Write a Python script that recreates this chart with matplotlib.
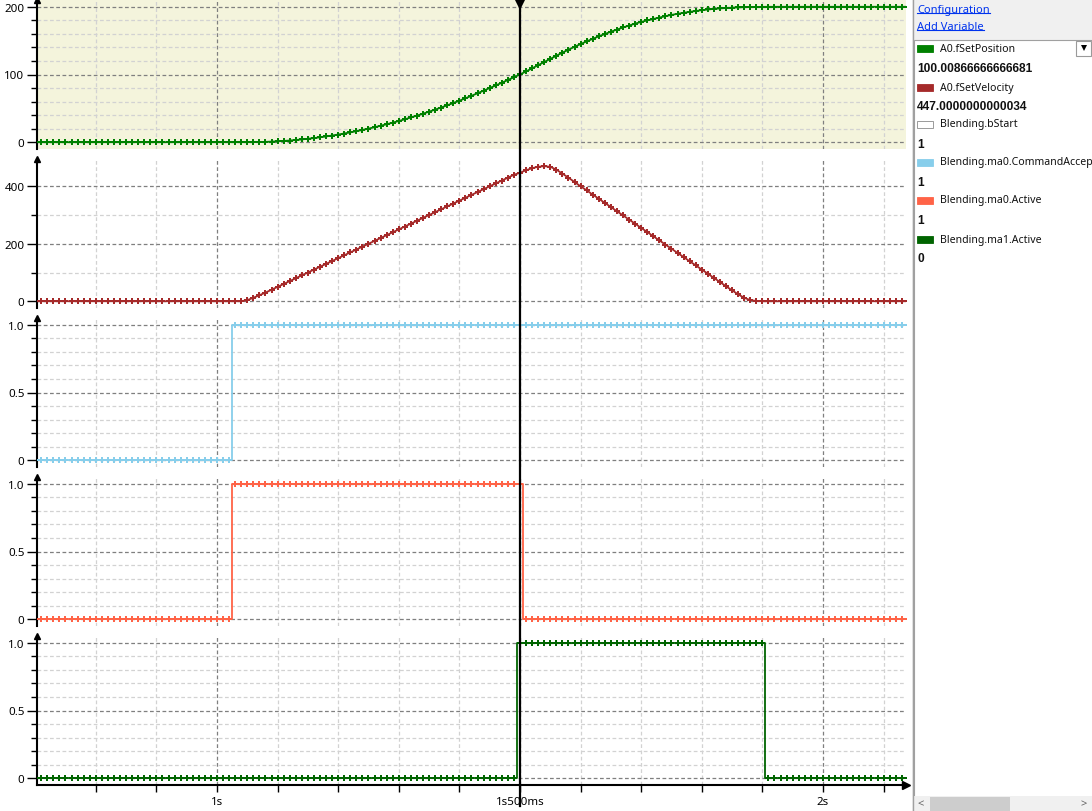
import numpy as np
import matplotlib
matplotlib.use("Agg")
import matplotlib.pyplot as plt
from matplotlib.lines import Line2D
from matplotlib.patches import Rectangle
import matplotlib.transforms as mtrans
from matplotlib.ticker import MultipleLocator, FuncFormatter

plt.rcParams['font.family'] = ['Noto Sans', 'DejaVu Sans']

# ---------------- data ----------------
# recording: 10 ms cycle from 0.70 s to 2.14 s
t_start = 0.70
t_step = 0.01
n_samples = 145
time_s = np.round(t_start + t_step * np.arange(n_samples), 3)

# A0.fSetPosition
position = [
    0, 0, 0, 0, 0, 0, 0, 0, 0, 0,                                              # 0.70
    0, 0, 0, 0, 0, 0, 0, 0, 0, 0,                                              # 0.80
    0, 0, 0, 0, 0, 0, 0, 0, 0, 0,                                              # 0.90
    0, 0, 0, 0, 0, 0.02, 0.10, 0.27, 0.52, 0.87,                               # 1.00
    1.32, 1.87, 2.52, 3.27, 4.12, 5.07, 6.12, 7.27, 8.52, 9.87,                # 1.10
    11.32, 12.87, 14.52, 16.27, 18.12, 20.07, 22.12, 24.27, 26.52, 28.87,      # 1.20
    31.32, 33.87, 36.52, 39.27, 42.12, 45.07, 48.12, 51.27, 54.52, 57.87,      # 1.30
    61.32, 64.87, 68.52, 72.27, 76.12, 80.07, 83.8, 87.8, 91.9, 95.9,          # 1.40
    100.01, 104.52, 109.11, 113.77, 118.46, 123.15, 127.78, 132.29, 136.66, 140.88,  # 1.50
    144.96, 148.89, 152.67, 156.31, 159.81, 163.16, 166.36, 169.42, 172.34, 175.11,  # 1.60
    177.6, 179.9, 182.0, 184.1, 186.1, 188.0, 189.6, 191.1, 192.5, 193.8,      # 1.70
    195.0, 196.0, 196.9, 197.6, 198.2, 198.7, 199.1, 199.4, 199.65, 199.8,     # 1.80
    199.9, 199.96, 200, 200, 200, 200, 200, 200, 200, 200,                     # 1.90
    200, 200, 200, 200, 200, 200, 200, 200, 200, 200,                          # 2.00
    200, 200, 200, 200, 200,                                                   # 2.10
]

# A0.fSetVelocity
velocity = [
    0, 0, 0, 0, 0, 0, 0, 0, 0, 0,                      # 0.70
    0, 0, 0, 0, 0, 0, 0, 0, 0, 0,                      # 0.80
    0, 0, 0, 0, 0, 0, 0, 0, 0, 0,                      # 0.90
    0, 0, 0, 0, 0, 4, 12, 21, 30, 40,                  # 1.00
    50, 60, 70, 80, 90, 100, 110, 120, 130, 140,       # 1.10
    150, 160, 170, 180, 190, 200, 210, 220, 230, 240,  # 1.20
    250, 260, 270, 280, 290, 300, 310, 320, 330, 340,  # 1.30
    350, 360, 370, 380, 390, 400, 410, 420, 430, 440,  # 1.40
    447, 456, 463, 468, 470, 468, 458, 444, 430, 415,  # 1.50
    400, 386, 371, 357, 342, 328, 313, 299, 284, 270,  # 1.60
    255, 241, 226, 212, 197, 183, 168, 154, 139, 125,  # 1.70
    110, 96, 81, 67, 52, 38, 24, 12, 4, 1,             # 1.80
    0, 0, 0, 0, 0, 0, 0, 0, 0, 0,                      # 1.90
    0, 0, 0, 0, 0, 0, 0, 0, 0, 0,                      # 2.00
    0, 0, 0, 0, 0,                                     # 2.10
]

# Blending.ma0.CommandAccepted
cmd_accepted = [
    0, 0, 0, 0, 0, 0, 0, 0, 0, 0,   # 0.70
    0, 0, 0, 0, 0, 0, 0, 0, 0, 0,   # 0.80
    0, 0, 0, 0, 0, 0, 0, 0, 0, 0,   # 0.90
    0, 0, 0, 1, 1, 1, 1, 1, 1, 1,   # 1.00
    1, 1, 1, 1, 1, 1, 1, 1, 1, 1,   # 1.10
    1, 1, 1, 1, 1, 1, 1, 1, 1, 1,   # 1.20
    1, 1, 1, 1, 1, 1, 1, 1, 1, 1,   # 1.30
    1, 1, 1, 1, 1, 1, 1, 1, 1, 1,   # 1.40
    1, 1, 1, 1, 1, 1, 1, 1, 1, 1,   # 1.50
    1, 1, 1, 1, 1, 1, 1, 1, 1, 1,   # 1.60
    1, 1, 1, 1, 1, 1, 1, 1, 1, 1,   # 1.70
    1, 1, 1, 1, 1, 1, 1, 1, 1, 1,   # 1.80
    1, 1, 1, 1, 1, 1, 1, 1, 1, 1,   # 1.90
    1, 1, 1, 1, 1, 1, 1, 1, 1, 1,   # 2.00
    1, 1, 1, 1, 1,                  # 2.10
]

# Blending.ma0.Active
ma0_active = [
    0, 0, 0, 0, 0, 0, 0, 0, 0, 0,   # 0.70
    0, 0, 0, 0, 0, 0, 0, 0, 0, 0,   # 0.80
    0, 0, 0, 0, 0, 0, 0, 0, 0, 0,   # 0.90
    0, 0, 0, 1, 1, 1, 1, 1, 1, 1,   # 1.00
    1, 1, 1, 1, 1, 1, 1, 1, 1, 1,   # 1.10
    1, 1, 1, 1, 1, 1, 1, 1, 1, 1,   # 1.20
    1, 1, 1, 1, 1, 1, 1, 1, 1, 1,   # 1.30
    1, 1, 1, 1, 1, 1, 1, 1, 1, 1,   # 1.40
    1, 0, 0, 0, 0, 0, 0, 0, 0, 0,   # 1.50
    0, 0, 0, 0, 0, 0, 0, 0, 0, 0,   # 1.60
    0, 0, 0, 0, 0, 0, 0, 0, 0, 0,   # 1.70
    0, 0, 0, 0, 0, 0, 0, 0, 0, 0,   # 1.80
    0, 0, 0, 0, 0, 0, 0, 0, 0, 0,   # 1.90
    0, 0, 0, 0, 0, 0, 0, 0, 0, 0,   # 2.00
    0, 0, 0, 0, 0,                  # 2.10
]

# Blending.ma1.Active
ma1_active = [
    0, 0, 0, 0, 0, 0, 0, 0, 0, 0,   # 0.70
    0, 0, 0, 0, 0, 0, 0, 0, 0, 0,   # 0.80
    0, 0, 0, 0, 0, 0, 0, 0, 0, 0,   # 0.90
    0, 0, 0, 0, 0, 0, 0, 0, 0, 0,   # 1.00
    0, 0, 0, 0, 0, 0, 0, 0, 0, 0,   # 1.10
    0, 0, 0, 0, 0, 0, 0, 0, 0, 0,   # 1.20
    0, 0, 0, 0, 0, 0, 0, 0, 0, 0,   # 1.30
    0, 0, 0, 0, 0, 0, 0, 0, 0, 0,   # 1.40
    1, 1, 1, 1, 1, 1, 1, 1, 1, 1,   # 1.50
    1, 1, 1, 1, 1, 1, 1, 1, 1, 1,   # 1.60
    1, 1, 1, 1, 1, 1, 1, 1, 1, 1,   # 1.70
    1, 1, 1, 1, 1, 1, 1, 1, 1, 1,   # 1.80
    1, 0, 0, 0, 0, 0, 0, 0, 0, 0,   # 1.90
    0, 0, 0, 0, 0, 0, 0, 0, 0, 0,   # 2.00
    0, 0, 0, 0, 0,                  # 2.10
]

cursor_time = 1.5
x_range = (0.703, 2.137)
x_tick_values = [1.0, 1.5, 2.0]
x_tick_labels = ['1s', '1s500ms', '2s']

legend_names = ['A0.fSetPosition', 'A0.fSetVelocity', 'Blending.bStart',
                'Blending.ma0.CommandAccep', 'Blending.ma0.Active', 'Blending.ma1.Active']
legend_values = ['100.00866666666681', '447.0000000000034', '1', '1', '1', '0']
legend_colors = ['#008000', '#A52A2A', '#FFFFFF', '#87CEEB', '#FF6347', '#006400']

# ---------------- figure ----------------
W, H = 1092, 812
fig = plt.figure(figsize=(W / 100, H / 100), dpi=100)
fig.patch.set_facecolor('white')

L, R = 37, 906
panels_px = [(1, 150), (160, 309), (319, 468), (478, 627), (637, 786)]
axes = []
for top, bot in panels_px:
    ax = fig.add_axes([L / W, 1 - bot / H, (R - L) / W, (bot - top) / H])
    axes.append(ax)

ylims = [(-10, 210), (-23.5, 495), (-0.05, 1.05), (-0.05, 1.05), (-0.05, 1.05)]
ymaj = [100, 200, 0.5, 0.5, 0.5]
ymin = [20, 100, 0.1, 0.1, 0.1]

def fmt_int(v, pos):
    return '%d' % round(v)

def fmt_frac(v, pos):
    if abs(v) < 1e-9:
        return '0'
    return '%.1f' % v

dash = (0, (3, 2))
for i, ax in enumerate(axes):
    ax.set_xlim(*x_range)
    ax.set_ylim(*ylims[i])
    for s in ['top', 'right', 'bottom']:
        ax.spines[s].set_visible(False)
    ax.spines['left'].set_linewidth(1.5)
    ax.spines['left'].set_color('black')
    ax.set_xticks(x_tick_values)
    ax.xaxis.set_minor_locator(MultipleLocator(0.1))
    ax.yaxis.set_major_locator(MultipleLocator(ymaj[i]))
    ax.yaxis.set_minor_locator(MultipleLocator(ymin[i]))
    ax.yaxis.set_major_formatter(FuncFormatter(fmt_int if i < 2 else fmt_frac))
    ax.grid(which='major', axis='both', color='#7f7f7f', ls=dash, lw=0.9)
    ax.grid(which='minor', axis='both', color='#d2d2d2', ls=dash, lw=0.9)
    ax.set_axisbelow(True)
    ax.tick_params(axis='y', which='major', length=7, width=1.0, pad=2,
                   labelsize=8.3, colors='black')
    ax.tick_params(axis='y', which='minor', length=4.5, width=1.0)
    ax.tick_params(axis='x', which='both', length=0, labelbottom=False)
    ax.plot([0], [1], marker='^', color='black', ms=5, transform=ax.transAxes,
            clip_on=False, zorder=6)
    ax.set_facecolor('white')

axes[0].set_facecolor('#F4F4DC')

# bottom panel time axis
ax5 = axes[-1]
ax5.spines['bottom'].set_visible(True)
ax5.spines['bottom'].set_linewidth(1.5)
ax5.spines['bottom'].set_color('black')
ax5.set_xticks(x_tick_values, x_tick_labels)
ax5.tick_params(axis='x', which='both', length=5, width=1.0, labelbottom=True,
                pad=3, labelsize=8.3, colors='black')
ax5.plot([1], [0], marker='>', color='black', ms=6, transform=ax5.transAxes,
         clip_on=False, zorder=6)

mk = dict(marker='P', ms=5, mew=0, zorder=3)
axes[0].plot(time_s, position, color='#008000', lw=1.3, **mk)
axes[1].plot(time_s, velocity, color='#A52A2A', lw=1.3, **mk)
axes[2].plot(time_s, cmd_accepted, color='#87CEEB', lw=1.3, drawstyle='steps-mid', **mk)
axes[3].plot(time_s, ma0_active, color='#FF6347', lw=1.3, drawstyle='steps-mid', **mk)
axes[4].plot(time_s, ma1_active, color='#006400', lw=1.3, drawstyle='steps-mid', **mk)

# cursor
blend = mtrans.blended_transform_factory(ax5.transData, fig.transFigure)
fig.add_artist(Line2D([cursor_time, cursor_time], [5 / H, 1.0], transform=blend,
                      color='black', lw=1.6, zorder=10))
fig.add_artist(Line2D([cursor_time], [1 - 3 / H], transform=blend, marker='v',
                      ms=11, color='black', mew=0, zorder=11))

# ---------------- side panel ----------------
sax = fig.add_axes([912 / W, 0, 180 / W, 1])
sax.set_xlim(912, 1092)
sax.set_ylim(812, 0)
sax.axis('off')
sax.add_patch(Rectangle((912, 0), 180, 812, fc='#F0F0F0', ec='none'))
sax.add_patch(Rectangle((913.5, 40.5), 180, 757, fc='white', ec='#A0A0A0', lw=0.8))
sax.plot([912.5, 912.5], [0, 812], color='#A0A0A0', lw=1.0)

link_color = '#0033EE'
links = []
for txt, y in [('Configuration', 10), ('Add Variable', 27)]:
    links.append(sax.text(917, y, txt, color=link_color, fontsize=8, va='center', ha='left'))

row_y = [49, 88, 125, 163, 201, 240]
for name, val, col, y in zip(legend_names, legend_values, legend_colors, row_y):
    ec = '#8a8a8a' if col == '#FFFFFF' else col
    sax.add_patch(Rectangle((917, y - 3.5), 16, 7, fc=col, ec=ec, lw=0.6))
    sax.text(940, y, name, fontsize=7.6, va='center', ha='left', color='#111111')
    sax.text(917, y + 19.5, val, fontsize=8.6, va='center', ha='left',
             fontweight='bold', family=['Liberation Sans', 'DejaVu Sans'],
             color='#111111')

# dropdown button
sax.add_patch(Rectangle((1076, 42), 15, 15, fc='white', ec='#9a9a9a', lw=0.8))
sax.plot([1083.5], [48.5], marker='v', ms=5, color='black', mew=0)

# scrollbar
sax.add_patch(Rectangle((913, 797), 179, 15, fc='#F0F0F0', ec='none'))
sax.add_patch(Rectangle((930, 798), 80, 14, fc='#CDCDCD', ec='none'))
sax.text(921, 804.5, '<', fontsize=8, va='center', ha='center', color='#606060', fontweight='bold')
sax.text(1084, 804.5, '>', fontsize=8, va='center', ha='center', color='#606060', fontweight='bold')

# underline links
fig.canvas.draw()
inv = sax.transData.inverted()
for t in links:
    bb = t.get_window_extent()
    (x0, y0), (x1, y1) = inv.transform([[bb.x0, bb.y0], [bb.x1, bb.y1]])
    ybase = max(y0, y1) - 1.5
    sax.plot([x0, x1], [ybase, ybase], color=link_color, lw=0.8)

fig.savefig('out.png', dpi=100, facecolor='white')
